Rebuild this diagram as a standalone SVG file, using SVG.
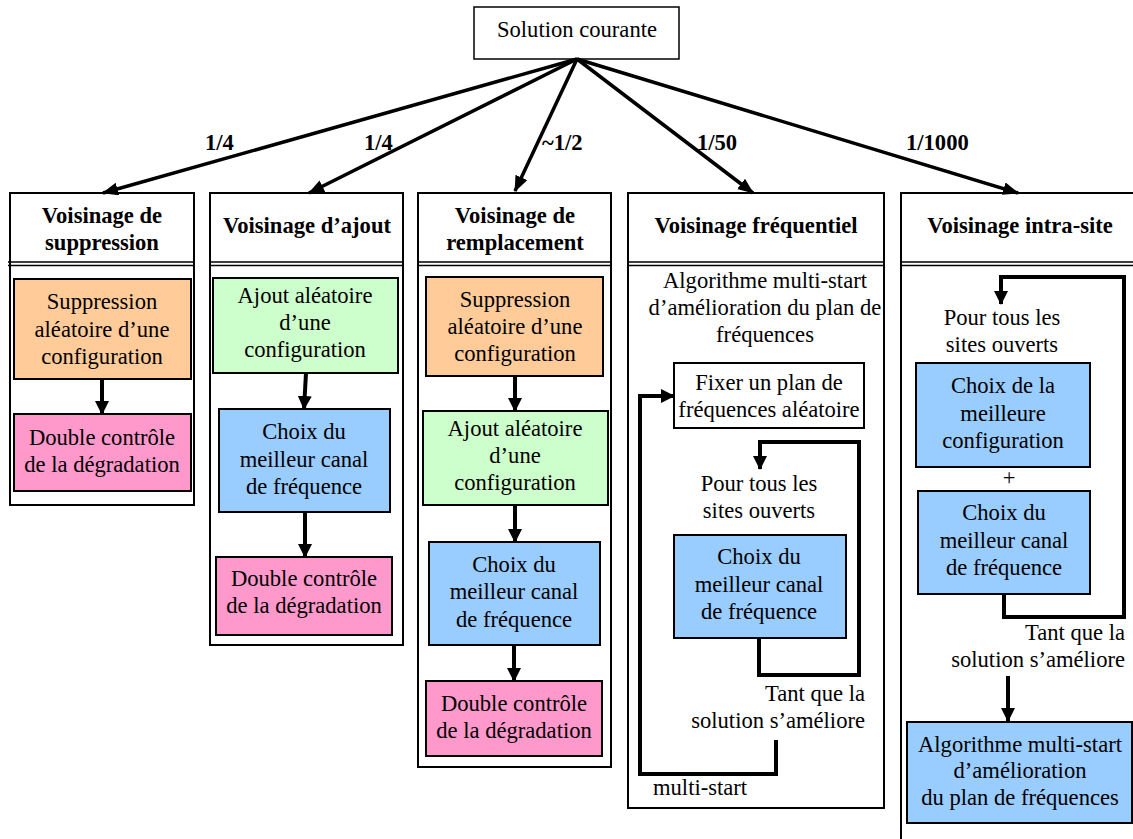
<svg xmlns="http://www.w3.org/2000/svg" width="1133" height="839" viewBox="0 0 1133 839">
<defs>
<marker id="ah" markerUnits="userSpaceOnUse" markerWidth="16" markerHeight="14" refX="15" refY="6.5" orient="auto">
<path d="M0,0 L16,6.5 L0,13 z" fill="#000"/>
</marker>
<marker id="ah2" markerUnits="userSpaceOnUse" markerWidth="14" markerHeight="14" refX="13" refY="7" orient="auto">
<path d="M0,0 L14,7 L0,14 z" fill="#000"/>
</marker>
<style>
text{font-family:"Liberation Serif","Times New Roman",serif;font-size:22.6px;fill:#000}
.c{text-anchor:middle}
.r{text-anchor:end}
.b{font-weight:bold}
.col{fill:#fff;stroke:#000;stroke-width:2}
.sep{stroke:#000;stroke-width:1.5;fill:none}
.bx{stroke:#000;stroke-width:2}
.or{fill:#FFCC99}.gr{fill:#CCFFCC}.bl{fill:#99CCFF}.pk{fill:#FF99CC}.wh{fill:#fff}
.top{stroke:#000;stroke-width:3.5;fill:none;marker-end:url(#ah)}
.fl{stroke:#000;stroke-width:4;fill:none;marker-end:url(#ah2)}
.lp{stroke:#000;stroke-width:4;fill:none}
</style>
</defs>
<rect width="1133" height="839" fill="#fff"/>

<g id="columns">
<g id="col1">
<rect class="col" x="10" y="193" width="184" height="312"/>
<path class="sep" d="M8,262 H194 M8,265.5 H194"/>
<text class="c b" x="102" y="223">Voisinage de</text>
<text class="c b" x="102" y="250">suppression</text>
</g>
<g id="col2">
<rect class="col" x="210" y="193" width="193" height="452"/>
<path class="sep" d="M210,262 H403 M210,265.5 H403"/>
<text class="c b" x="307" y="233">Voisinage d’ajout</text>
</g>
<g id="col3">
<rect class="col" x="418" y="193" width="193" height="574"/>
<path class="sep" d="M418,262 H611 M418,265.5 H611"/>
<text class="c b" x="515" y="223">Voisinage de</text>
<text class="c b" x="515" y="250">remplacement</text>
</g>
<g id="col4">
<rect class="col" x="628" y="193" width="256" height="615"/>
<path class="sep" d="M628,262 H884 M628,265.5 H884"/>
<text class="c b" x="756" y="233">Voisinage fréquentiel</text>
<text class="c" x="765" y="288">Algorithme multi-start</text>
<text class="c" x="765" y="315">d’amélioration du plan de</text>
<text class="c" x="765" y="342">fréquences</text>
</g>
<g id="col5">
<path d="M901,839 V193 H1133" fill="#fff" stroke="#000" stroke-width="2"/>
<path class="sep" d="M901,262 H1133 M901,265.5 H1133"/>
<text class="c b" x="1020" y="233">Voisinage intra-site</text>
</g>
</g>

<g id="root">
<rect x="474" y="7" width="205" height="52" fill="#fff" stroke="#000" stroke-width="1.5"/>
<text class="c" x="577" y="37">Solution courante</text>
</g>

<g id="n1a"><rect class="bx or" x="14" y="279" width="177" height="100"/>
<text class="c" x="102" y="309">Suppression</text><text class="c" x="102" y="337">aléatoire d’une</text><text class="c" x="102" y="364">configuration</text></g>
<g id="n1b"><rect class="bx pk" x="14" y="414" width="177" height="77"/>
<text class="c" x="102" y="445">Double contrôle</text><text class="c" x="102" y="472">de la dégradation</text></g>

<g id="n2a"><rect class="bx gr" x="213" y="278" width="185" height="95"/>
<text class="c" x="305" y="303">Ajout aléatoire</text><text class="c" x="305" y="330">d’une</text><text class="c" x="305" y="357">configuration</text></g>
<g id="n2b"><rect class="bx bl" x="219" y="409" width="171" height="103"/>
<text class="c" x="304" y="439">Choix du</text><text class="c" x="304" y="467">meilleur canal</text><text class="c" x="304" y="494">de fréquence</text></g>
<g id="n2c"><rect class="bx pk" x="216" y="557" width="176" height="78"/>
<text class="c" x="304" y="586">Double contrôle</text><text class="c" x="304" y="613">de la dégradation</text></g>

<g id="n3a"><rect class="bx or" x="426" y="277" width="177" height="99"/>
<text class="c" x="515" y="307">Suppression</text><text class="c" x="515" y="334">aléatoire d’une</text><text class="c" x="515" y="361">configuration</text></g>
<g id="n3b"><rect class="bx gr" x="423" y="411" width="185" height="94"/>
<text class="c" x="515" y="436">Ajout aléatoire</text><text class="c" x="515" y="463">d’une</text><text class="c" x="515" y="490">configuration</text></g>
<g id="n3c"><rect class="bx bl" x="429" y="542" width="171" height="103"/>
<text class="c" x="514" y="572">Choix du</text><text class="c" x="514" y="599">meilleur canal</text><text class="c" x="514" y="627">de fréquence</text></g>
<g id="n3d"><rect class="bx pk" x="426" y="681" width="176" height="75"/>
<text class="c" x="514" y="711">Double contrôle</text><text class="c" x="514" y="738">de la dégradation</text></g>

<g id="n4a"><rect class="bx wh" x="674" y="363" width="190" height="65"/>
<text class="c" x="769" y="390">Fixer un plan de</text><text class="c" x="769" y="417">fréquences aléatoire</text></g>
<g id="n4t1"><text class="c" x="759" y="491">Pour tous les</text><text class="c" x="759" y="518">sites ouverts</text></g>
<g id="n4b"><rect class="bx bl" x="674" y="535" width="172" height="103"/>
<text class="c" x="759" y="564">Choix du</text><text class="c" x="759" y="592">meilleur canal</text><text class="c" x="759" y="619">de fréquence</text></g>
<g id="n4t2"><text class="r" x="865" y="701">Tant que la</text><text class="r" x="865" y="728">solution s’améliore</text></g>
<g id="n4t3"><text x="653" y="795">multi-start</text></g>

<g id="n5t1"><text class="c" x="1002" y="325">Pour tous les</text><text class="c" x="1002" y="352">sites ouverts</text></g>
<g id="n5a"><rect class="bx bl" x="916" y="363" width="174" height="104"/>
<text class="c" x="1003" y="393">Choix de la</text><text class="c" x="1003" y="421">meilleure</text><text class="c" x="1003" y="448">configuration</text></g>
<g id="n5plus"><text class="c" x="1009" y="485">+</text></g>
<g id="n5b"><rect class="bx bl" x="918" y="491" width="172" height="103"/>
<text class="c" x="1004" y="520">Choix du</text><text class="c" x="1004" y="548">meilleur canal</text><text class="c" x="1004" y="575">de fréquence</text></g>
<g id="n5t2"><text class="r" x="1125" y="640">Tant que la</text><text class="r" x="1125" y="667">solution s’améliore</text></g>
<g id="n5c"><rect class="bx bl" x="907" y="722" width="225" height="101"/>
<text class="c" x="1020" y="752">Algorithme multi-start</text><text class="c" x="1020" y="778">d’amélioration</text><text class="c" x="1020" y="805">du plan de fréquences</text></g>

<g id="connectors">
<line class="top" x1="577" y1="59" x2="103" y2="193"/>
<line class="top" x1="577" y1="59" x2="309" y2="193"/>
<line class="top" x1="577" y1="59" x2="515" y2="191"/>
<line class="top" x1="577" y1="59" x2="753" y2="193"/>
<line class="top" x1="577" y1="59" x2="1018" y2="193"/>
<g class="b">
<text class="b" x="205" y="150">1/4</text>
<text class="b" x="364" y="150">1/4</text>
<text class="b" x="542" y="150">~1/2</text>
<text class="b" x="697" y="150">1/50</text>
<text class="b" x="906" y="150">1/1000</text>
</g>
<line class="fl" x1="102" y1="379" x2="102" y2="414"/>
<line class="fl" x1="306" y1="373" x2="304" y2="409"/>
<line class="fl" x1="305" y1="512" x2="305" y2="557"/>
<line class="fl" x1="515" y1="376" x2="515" y2="411"/>
<line class="fl" x1="515" y1="505" x2="515" y2="542"/>
<line class="fl" x1="514" y1="645" x2="514" y2="681"/>
<path class="lp" d="M759,638 V675 H859 V442 H760"/>
<line class="fl" x1="760" y1="440" x2="760" y2="469"/>
<path class="lp" d="M776,740 V774 H640 V396 H650"/>
<line class="fl" x1="638" y1="396" x2="674" y2="396"/>
<path class="lp" d="M1004,594 V617 H1124 V277 H1001"/>
<line class="fl" x1="1001" y1="275" x2="1001" y2="304"/>
<line class="fl" x1="1008" y1="676" x2="1008" y2="721"/>
</g>
</svg>
